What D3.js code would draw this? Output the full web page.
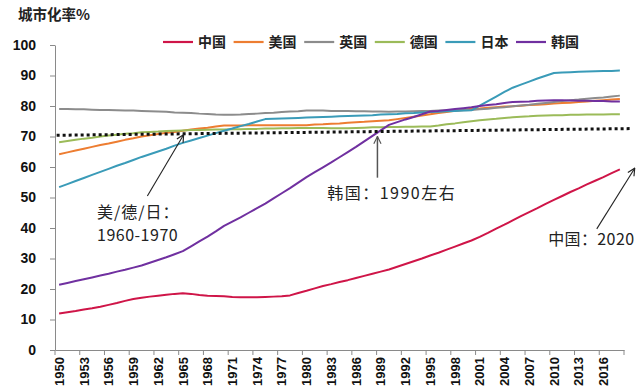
<!DOCTYPE html>
<html>
<head>
<meta charset="utf-8">
<script src="https://cdn.jsdelivr.net/npm/d3@7"></script>
<style>
  html, body { margin: 0; padding: 0; background: #fff; }
  svg { display: block; }
</style>
</head>
<body>
<svg id="chart" width="640" height="390"></svg>
<script>
// Urbanisation rate (%) by country, 1950-2018
const years = d3.range(1950, 2019);
const labelYears = d3.range(1950, 2019, 3);
const yTicks = d3.range(0, 101, 10);

const seriesNames = ["中国", "美国", "英国", "德国", "日本", "韩国"];
const seriesColors = ["#CF1548", "#ED7D31", "#8C8C8C", "#9BBB59", "#3A9BB8", "#7030A0"];

const china = [
  12.0, 12.4, 12.8, 13.3, 13.7, 14.2, 14.8, 15.4, 16.1, 16.7,
  17.1, 17.5, 17.8, 18.1, 18.4, 18.6, 18.4, 18.0, 17.8, 17.7,
  17.6, 17.4, 17.3, 17.3, 17.3, 17.4, 17.5, 17.6, 17.9, 18.7,
  19.4, 20.2, 21.0, 21.6, 22.3, 22.9, 23.6, 24.3, 25.0, 25.7,
  26.4, 27.3, 28.2, 29.1, 30.0, 31.0, 31.9, 32.9, 33.9, 34.9,
  35.9, 37.1, 38.4, 39.8, 41.1, 42.5, 43.9, 45.2, 46.5, 47.9,
  49.2, 50.5, 51.8, 53.0, 54.3, 55.5, 56.7, 58.0, 59.2
];
const usa = [
  64.2, 64.8, 65.4, 66.0, 66.6, 67.2, 67.7, 68.3, 68.9, 69.4,
  70.0, 70.4, 70.8, 71.2, 71.5, 71.9, 72.3, 72.6, 72.9, 73.3,
  73.6, 73.6, 73.6, 73.7, 73.7, 73.7, 73.7, 73.7, 73.7, 73.7,
  73.7, 73.9, 74.0, 74.2, 74.3, 74.5, 74.7, 74.8, 75.0, 75.2,
  75.3, 75.7, 76.1, 76.5, 76.9, 77.3, 77.7, 78.0, 78.4, 78.7,
  79.1, 79.2, 79.4, 79.6, 79.8, 79.9, 80.1, 80.3, 80.4, 80.6,
  80.8, 81.0, 81.1, 81.3, 81.5, 81.7, 81.9, 82.1, 82.3
];
const uk = [
  79.0, 79.0, 78.9, 78.9, 78.8, 78.7, 78.7, 78.6, 78.5, 78.5,
  78.4, 78.3, 78.2, 78.1, 77.9, 77.8, 77.7, 77.5, 77.4, 77.2,
  77.1, 77.1, 77.2, 77.4, 77.5, 77.7, 77.8, 78.0, 78.2, 78.3,
  78.5, 78.5, 78.5, 78.4, 78.4, 78.4, 78.3, 78.3, 78.2, 78.2,
  78.1, 78.2, 78.2, 78.3, 78.4, 78.4, 78.5, 78.5, 78.6, 78.6,
  78.7, 78.9, 79.1, 79.4, 79.6, 79.9, 80.2, 80.4, 80.7, 81.0,
  81.3, 81.6, 81.9, 82.1, 82.4, 82.6, 82.8, 83.1, 83.4
];
const germany = [
  68.1, 68.5, 68.9, 69.3, 69.6, 70.0, 70.3, 70.6, 70.9, 71.1,
  71.4, 71.5, 71.6, 71.8, 71.9, 72.0, 72.1, 72.1, 72.2, 72.3,
  72.3, 72.4, 72.4, 72.5, 72.5, 72.6, 72.6, 72.7, 72.7, 72.8,
  72.8, 72.8, 72.8, 72.7, 72.7, 72.7, 72.8, 72.9, 73.0, 73.0,
  73.1, 73.1, 73.2, 73.2, 73.3, 73.3, 73.6, 74.0, 74.3, 74.7,
  75.0, 75.3, 75.6, 75.8, 76.1, 76.3, 76.5, 76.6, 76.8, 76.9,
  77.0, 77.0, 77.1, 77.1, 77.2, 77.2, 77.2, 77.3, 77.3
];
const japan = [
  53.4, 54.4, 55.4, 56.4, 57.4, 58.4, 59.4, 60.4, 61.3, 62.3,
  63.3, 64.2, 65.1, 66.0, 67.0, 67.9, 68.7, 69.5, 70.3, 71.1,
  71.9, 72.6, 73.4, 74.1, 74.9, 75.7, 75.8, 75.9, 76.0, 76.1,
  76.2, 76.3, 76.4, 76.5, 76.6, 76.7, 76.8, 76.9, 77.0, 77.2,
  77.3, 77.4, 77.6, 77.7, 77.9, 78.0, 78.1, 78.3, 78.4, 78.5,
  78.6, 80.1, 81.6, 83.1, 84.6, 86.0, 87.0, 88.0, 89.0, 89.9,
  90.8, 91.0, 91.1, 91.2, 91.3, 91.4, 91.5, 91.5, 91.6
];
const korea = [
  21.4, 22.0, 22.6, 23.2, 23.8, 24.4, 25.0, 25.7, 26.3, 27.0,
  27.7, 28.6, 29.5, 30.4, 31.4, 32.4, 34.0, 35.6, 37.2, 38.9,
  40.7, 42.1, 43.5, 45.0, 46.5, 48.0, 49.7, 51.4, 53.1, 54.9,
  56.7, 58.3, 59.9, 61.5, 63.2, 64.9, 66.6, 68.4, 70.2, 72.0,
  73.8, 74.7, 75.6, 76.4, 77.3, 78.2, 78.4, 78.7, 79.0, 79.3,
  79.6, 80.0, 80.3, 80.6, 81.0, 81.3, 81.4, 81.5, 81.7, 81.8,
  81.9, 81.9, 81.8, 81.7, 81.7, 81.6, 81.6, 81.5, 81.5
];
const seriesValues = [china, usa, uk, germany, japan, korea];

// Annotations, in [year, percent] coordinates
const guideLine = [[1950.2, 70.4], [2020.0, 72.6]];
const arrows = [
  { from: [1961.2, 50.5], to: [1965.6, 70.6], color: "#222" },
  { from: [1989.1, 56.5], to: [1989.1, 70.0], color: "#555" },
  { from: [2015.7, 39.7], to: [2020.3, 59.6], color: "#222" }
];
const notes = [
  { lines: ["美/德/日：", "1960-1970"], at: [1955.1, 43.4], spacing: [1, 0.5] },
  { lines: ["韩国：1990左右"], at: [1983.0, 49.5], spacing: [1.5] },
  { lines: ["中国：2020"], at: [2009.8, 34.4], spacing: [0.4] }
];

const svg = d3.select("#chart");
const margin = { left: 55, right: 16, top: 45, bottom: 40 };
const W = 640, H = 390;

const x = d3.scaleBand().domain(years).range([margin.left, W - margin.right]).paddingInner(0).paddingOuter(0);
const bw = x.bandwidth();
// continuous year scale whose integer values sit on category boundaries
const xYear = d3.scaleLinear().domain([years[0], years[years.length - 1] + 1]).range(x.range());
const y = d3.scaleLinear().domain([0, 100]).range([H - margin.bottom, margin.top]);

const axisColor = "#8a8a8a";

// y axis
const gy = svg.append("g").attr("transform", `translate(${margin.left},0)`)
  .call(d3.axisLeft(y).tickValues(yTicks).tickSize(5).tickSizeOuter(0).tickPadding(6));
gy.select(".domain").attr("stroke", axisColor);
gy.selectAll(".tick line").attr("stroke", axisColor);
gy.selectAll(".tick text")
  .attr("fill", "#111")
  .style("font-family", "'Liberation Sans', Arial, sans-serif")
  .style("font-weight", "bold")
  .style("font-size", "14px")
  .attr("dx", -8);

// x axis: ticks on category boundaries, labels centred in categories
const gx = svg.append("g").attr("transform", `translate(0,${y(0)})`)
  .call(d3.axisBottom(x).tickValues(labelYears).tickSize(5).tickSizeOuter(0));
gx.select(".domain").attr("stroke", axisColor);
gx.selectAll(".tick line").attr("stroke", axisColor).attr("transform", `translate(${-bw / 2},0)`);
gx.append("line")
  .attr("x1", x.range()[1]).attr("x2", x.range()[1])
  .attr("y1", 0).attr("y2", 5)
  .attr("stroke", axisColor);
gx.selectAll(".tick text")
  .attr("fill", "#111")
  .style("font-family", "'Liberation Sans', Arial, sans-serif")
  .style("font-weight", "bold")
  .style("font-size", "13px")
  .attr("transform", "rotate(-90)")
  .attr("text-anchor", "end")
  .attr("x", -7)
  .attr("y", 0)
  .attr("dy", "0.36em");

// series lines
const line = d3.line()
  .x((d, i) => x(years[i]) + bw / 2)
  .y(d => y(d))
  .curve(d3.curveLinear);

svg.append("g").selectAll("path")
  .data(seriesValues)
  .join("path")
  .attr("d", d => line(d))
  .attr("fill", "none")
  .attr("stroke", (d, i) => seriesColors[i])
  .attr("stroke-width", 2)
  .attr("stroke-linejoin", "round");

// dotted guide
svg.append("path")
  .attr("d", d3.line().x(d => xYear(d[0])).y(d => y(d[1]))(guideLine))
  .attr("fill", "none")
  .attr("stroke", "#111")
  .attr("stroke-width", 3)
  .attr("stroke-dasharray", "3,3");

// arrows
const defs = svg.append("defs");
arrows.forEach((a, i) => {
  defs.append("marker")
    .attr("id", "head" + i)
    .attr("viewBox", "0 0 10 10")
    .attr("refX", 9).attr("refY", 5)
    .attr("markerWidth", 9).attr("markerHeight", 9)
    .attr("markerUnits", "userSpaceOnUse")
    .attr("orient", "auto")
    .append("path")
    .attr("d", "M1,1 L9,5 L1,9")
    .attr("fill", "none")
    .attr("stroke", a.color)
    .attr("stroke-width", 1.3);
});
svg.append("g").selectAll("line")
  .data(arrows)
  .join("line")
  .attr("x1", d => xYear(d.from[0])).attr("y1", d => y(d.from[1]))
  .attr("x2", d => xYear(d.to[0])).attr("y2", d => y(d.to[1]))
  .attr("stroke", d => d.color)
  .attr("stroke-width", (d, i) => i === 1 ? 1.5 : 1.1)
  .attr("marker-end", (d, i) => `url(#head${i})`);

// annotation notes
notes.forEach(n => {
  const t = svg.append("text")
    .attr("x", xYear(n.at[0]))
    .attr("y", y(n.at[1]))
    .attr("fill", "#222")
    .style("font-family", "'Noto Sans CJK SC', sans-serif")
    .style("font-size", "16px");
  n.lines.forEach((s, k) => {
    t.append("tspan")
      .attr("x", xYear(n.at[0]))
      .attr("dy", k === 0 ? 0 : 23)
      .style("letter-spacing", n.spacing[k] + "px")
      .text(s);
  });
});

// title
svg.append("text")
  .attr("x", 18).attr("y", 20)
  .attr("fill", "#222")
  .style("font-family", "'Noto Sans CJK SC', sans-serif")
  .style("font-weight", "bold")
  .style("font-size", "14.5px")
  .text("城市化率%");

// legend
const legend = svg.append("g").attr("transform", "translate(163,42)");
const item = legend.selectAll("g")
  .data(seriesNames)
  .join("g")
  .attr("transform", (d, i) => `translate(${i * 70.6},0)`);
item.append("line")
  .attr("x1", 0).attr("x2", 30)
  .attr("y1", 0).attr("y2", 0)
  .attr("stroke", (d, i) => seriesColors[i])
  .attr("stroke-width", 2.2);
item.append("text")
  .attr("x", 35).attr("y", 0).attr("dy", "0.36em")
  .attr("fill", "#222")
  .style("font-family", "'Noto Sans CJK SC', sans-serif")
  .style("font-weight", "bold")
  .style("font-size", "14px")
  .text(d => d);
</script>
</body>
</html>
